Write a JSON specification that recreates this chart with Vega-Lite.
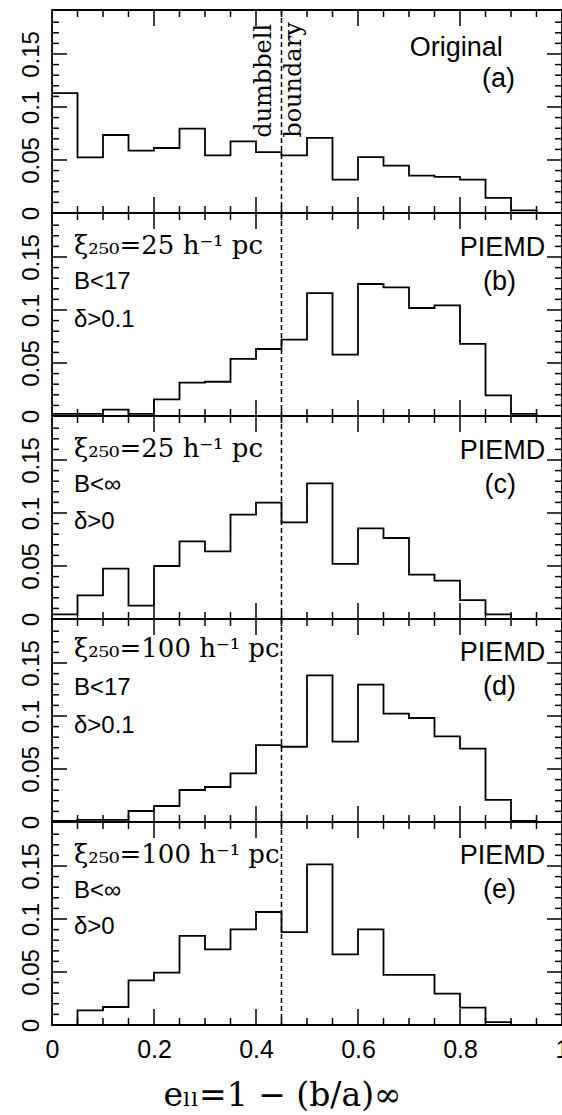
{
"$schema":"https://vega.github.io/schema/vega-lite/v6.json",
"background":"white",
"padding":{"left":0,"top":8,"right":1,"bottom":0},
"spacing":0,
"bounds":"flush",
"datasets":{
"hist":[
{"panel":"a","e":0,"f":0.113},{"panel":"a","e":0.05,"f":0.0525},{"panel":"a","e":0.1,"f":0.0736},{"panel":"a","e":0.15,"f":0.0588},{"panel":"a","e":0.2,"f":0.0613},{"panel":"a","e":0.25,"f":0.0796},{"panel":"a","e":0.3,"f":0.0544},{"panel":"a","e":0.35,"f":0.0676},{"panel":"a","e":0.4,"f":0.0575},{"panel":"a","e":0.45,"f":0.0544},{"panel":"a","e":0.5,"f":0.0708},{"panel":"a","e":0.55,"f":0.0314},{"panel":"a","e":0.6,"f":0.0528},{"panel":"a","e":0.65,"f":0.0447},{"panel":"a","e":0.7,"f":0.0352},{"panel":"a","e":0.75,"f":0.034},{"panel":"a","e":0.8,"f":0.0314},{"panel":"a","e":0.85,"f":0.0142},{"panel":"a","e":0.9,"f":0.0025},{"panel":"a","e":0.95,"f":0},{"panel":"a","e":1,"f":0},
{"panel":"b","e":0,"f":0.002},{"panel":"b","e":0.05,"f":0.002},{"panel":"b","e":0.1,"f":0.006},{"panel":"b","e":0.15,"f":0.002},{"panel":"b","e":0.2,"f":0.0157},{"panel":"b","e":0.25,"f":0.0314},{"panel":"b","e":0.3,"f":0.0323},{"panel":"b","e":0.35,"f":0.0538},{"panel":"b","e":0.4,"f":0.0632},{"panel":"b","e":0.45,"f":0.072},{"panel":"b","e":0.5,"f":0.116},{"panel":"b","e":0.55,"f":0.0579},{"panel":"b","e":0.6,"f":0.1245},{"panel":"b","e":0.65,"f":0.1214},{"panel":"b","e":0.7,"f":0.1019},{"panel":"b","e":0.75,"f":0.1044},{"panel":"b","e":0.8,"f":0.068},{"panel":"b","e":0.85,"f":0.0195},{"panel":"b","e":0.9,"f":0.002},{"panel":"b","e":0.95,"f":0},{"panel":"b","e":1,"f":0},
{"panel":"c","e":0,"f":0.0044},{"panel":"c","e":0.05,"f":0.0223},{"panel":"c","e":0.1,"f":0.0475},{"panel":"c","e":0.15,"f":0.0126},{"panel":"c","e":0.2,"f":0.05},{"panel":"c","e":0.25,"f":0.0733},{"panel":"c","e":0.3,"f":0.0638},{"panel":"c","e":0.35,"f":0.0984},{"panel":"c","e":0.4,"f":0.1097},{"panel":"c","e":0.45,"f":0.0912},{"panel":"c","e":0.5,"f":0.128},{"panel":"c","e":0.55,"f":0.052},{"panel":"c","e":0.6,"f":0.0855},{"panel":"c","e":0.65,"f":0.0764},{"panel":"c","e":0.7,"f":0.0418},{"panel":"c","e":0.75,"f":0.0362},{"panel":"c","e":0.8,"f":0.0179},{"panel":"c","e":0.85,"f":0.0044},{"panel":"c","e":0.9,"f":0},{"panel":"c","e":0.95,"f":0},{"panel":"c","e":1,"f":0},
{"panel":"d","e":0,"f":0.001},{"panel":"d","e":0.05,"f":0.002},{"panel":"d","e":0.1,"f":0.002},{"panel":"d","e":0.15,"f":0.0104},{"panel":"d","e":0.2,"f":0.0151},{"panel":"d","e":0.25,"f":0.0302},{"panel":"d","e":0.3,"f":0.033},{"panel":"d","e":0.35,"f":0.0459},{"panel":"d","e":0.4,"f":0.0726},{"panel":"d","e":0.45,"f":0.071},{"panel":"d","e":0.5,"f":0.1384},{"panel":"d","e":0.55,"f":0.0758},{"panel":"d","e":0.6,"f":0.1296},{"panel":"d","e":0.65,"f":0.1022},{"panel":"d","e":0.7,"f":0.0981},{"panel":"d","e":0.75,"f":0.0808},{"panel":"d","e":0.8,"f":0.0692},{"panel":"d","e":0.85,"f":0.0208},{"panel":"d","e":0.9,"f":0.001},{"panel":"d","e":0.95,"f":0},{"panel":"d","e":1,"f":0},
{"panel":"e","e":0,"f":0},{"panel":"e","e":0.05,"f":0.0138},{"panel":"e","e":0.1,"f":0.017},{"panel":"e","e":0.15,"f":0.0421},{"panel":"e","e":0.2,"f":0.0494},{"panel":"e","e":0.25,"f":0.084},{"panel":"e","e":0.3,"f":0.0714},{"panel":"e","e":0.35,"f":0.0903},{"panel":"e","e":0.4,"f":0.1066},{"panel":"e","e":0.45,"f":0.0877},{"panel":"e","e":0.5,"f":0.1516},{"panel":"e","e":0.55,"f":0.0667},{"panel":"e","e":0.6,"f":0.0903},{"panel":"e","e":0.65,"f":0.0472},{"panel":"e","e":0.7,"f":0.0472},{"panel":"e","e":0.75,"f":0.0296},{"panel":"e","e":0.8,"f":0.0164},{"panel":"e","e":0.85,"f":0.0028},{"panel":"e","e":0.9,"f":0},{"panel":"e","e":0.95,"f":0},{"panel":"e","e":1,"f":0}
],
"ticks":[
{"kind":"xmajor","v":0.2},{"kind":"xmajor","v":0.4},{"kind":"xmajor","v":0.6},{"kind":"xmajor","v":0.8},
{"kind":"xminor","v":0.05},{"kind":"xminor","v":0.1},{"kind":"xminor","v":0.15},{"kind":"xminor","v":0.25},{"kind":"xminor","v":0.3},{"kind":"xminor","v":0.35},{"kind":"xminor","v":0.45},{"kind":"xminor","v":0.5},{"kind":"xminor","v":0.55},{"kind":"xminor","v":0.65},{"kind":"xminor","v":0.7},{"kind":"xminor","v":0.75},{"kind":"xminor","v":0.85},{"kind":"xminor","v":0.9},{"kind":"xminor","v":0.95},
{"kind":"ymajor","v":0.05},{"kind":"ymajor","v":0.1},{"kind":"ymajor","v":0.15},
{"kind":"yminor","v":0.01},{"kind":"yminor","v":0.02},{"kind":"yminor","v":0.03},{"kind":"yminor","v":0.04},{"kind":"yminor","v":0.06},{"kind":"yminor","v":0.07},{"kind":"yminor","v":0.08},{"kind":"yminor","v":0.09},{"kind":"yminor","v":0.11},{"kind":"yminor","v":0.12},{"kind":"yminor","v":0.13},{"kind":"yminor","v":0.14},{"kind":"yminor","v":0.16},{"kind":"yminor","v":0.17},{"kind":"yminor","v":0.18}
],
"notes":[
{"panel":"a","model":"Original","tag":"(a)","w1":"dumbbell","w2":"boundary"},
{"panel":"b","model":"PIEMD","tag":"(b)","l1":"ξ₂₅₀=25   h⁻¹   pc","l2":"B<17","l3":"δ>0.1"},
{"panel":"c","model":"PIEMD","tag":"(c)","l1":"ξ₂₅₀=25   h⁻¹   pc","l2":"B<∞","l3":"δ>0"},
{"panel":"d","model":"PIEMD","tag":"(d)","l1":"ξ₂₅₀=100   h⁻¹   pc","l2":"B<17","l3":"δ>0.1"},
{"panel":"e","model":"PIEMD","tag":"(e)","l1":"ξ₂₅₀=100   h⁻¹   pc","l2":"B<∞","l3":"δ>0"}
]
},
"vconcat":[
{"width":510,"height":203,"data":{"name":"hist"},"transform":[{"filter":"datum.panel==='a'"}],"resolve":{"axis":{"x":"independent","y":"independent"}},
"layer":[
{"mark":{"type":"line","interpolate":"step-after","color":"black","strokeWidth":1.8},"encoding":{"x":{"field":"e","type":"quantitative","scale":{"domain":[0,1],"nice":false,"zero":false},"axis":null},"y":{"field":"f","type":"quantitative","scale":{"domain":[0,0.1915],"nice":false},"axis":{"orient":"left","values":[0,0.05,0.1,0.15],"ticks":false,"labelAngle":270,"labelAlign":"center","labelBaseline":"alphabetic","labelPadding":14,"format":"~g","minExtent":51,"maxExtent":51,"title":null}}}},
{"data":{"name":"ticks"},"transform":[{"filter":"datum.v >= 0"}],
"layer":[
{"transform":[{"filter":"datum.kind==='xmajor'"}],"mark":{"type":"rule","color":"black","strokeWidth":1.5},"encoding":{"x":{"field":"v","type":"quantitative","scale":{"domain":[0,1],"nice":false,"zero":false},"axis":null},"y":{"datum":0,"type":"quantitative","scale":{"domain":[0,0.1915],"nice":false},"axis":null},"y2":{"datum":0.0151}}},
{"transform":[{"filter":"datum.kind==='xminor'"}],"mark":{"type":"rule","color":"black","strokeWidth":1.5},"encoding":{"x":{"field":"v","type":"quantitative","scale":{"domain":[0,1],"nice":false,"zero":false},"axis":null},"y":{"datum":0,"type":"quantitative","scale":{"domain":[0,0.1915],"nice":false},"axis":null},"y2":{"datum":0.0066}}},
{"transform":[{"filter":"datum.kind==='xmajor'"}],"mark":{"type":"rule","color":"black","strokeWidth":1.5},"encoding":{"x":{"field":"v","type":"quantitative","scale":{"domain":[0,1],"nice":false,"zero":false},"axis":null},"y":{"datum":0.1915,"type":"quantitative","scale":{"domain":[0,0.1915],"nice":false},"axis":null},"y2":{"datum":0.1764}}},
{"transform":[{"filter":"datum.kind==='xminor'"}],"mark":{"type":"rule","color":"black","strokeWidth":1.5},"encoding":{"x":{"field":"v","type":"quantitative","scale":{"domain":[0,1],"nice":false,"zero":false},"axis":null},"y":{"datum":0.1915,"type":"quantitative","scale":{"domain":[0,0.1915],"nice":false},"axis":null},"y2":{"datum":0.1849}}},
{"transform":[{"filter":"datum.kind==='ymajor'"}],"mark":{"type":"rule","color":"black","strokeWidth":1.5},"encoding":{"y":{"field":"v","type":"quantitative","scale":{"domain":[0,0.1915],"nice":false},"axis":null},"x":{"datum":0,"type":"quantitative","scale":{"domain":[0,1],"nice":false,"zero":false},"axis":null},"x2":{"datum":0.0294}}},
{"transform":[{"filter":"datum.kind==='yminor'"}],"mark":{"type":"rule","color":"black","strokeWidth":1.5},"encoding":{"y":{"field":"v","type":"quantitative","scale":{"domain":[0,0.1915],"nice":false},"axis":null},"x":{"datum":0,"type":"quantitative","scale":{"domain":[0,1],"nice":false,"zero":false},"axis":null},"x2":{"datum":0.0137}}},
{"transform":[{"filter":"datum.kind==='ymajor'"}],"mark":{"type":"rule","color":"black","strokeWidth":1.5},"encoding":{"y":{"field":"v","type":"quantitative","scale":{"domain":[0,0.1915],"nice":false},"axis":null},"x":{"datum":1,"type":"quantitative","scale":{"domain":[0,1],"nice":false,"zero":false},"axis":null},"x2":{"datum":0.9706}}},
{"transform":[{"filter":"datum.kind==='yminor'"}],"mark":{"type":"rule","color":"black","strokeWidth":1.5},"encoding":{"y":{"field":"v","type":"quantitative","scale":{"domain":[0,0.1915],"nice":false},"axis":null},"x":{"datum":1,"type":"quantitative","scale":{"domain":[0,1],"nice":false,"zero":false},"axis":null},"x2":{"datum":0.9863}}}
]},
{"data":{"name":"notes"},"transform":[{"filter":"datum.panel==='a'"}],
"layer":[
{"mark":{"type":"rule","color":"black","strokeWidth":1.5,"strokeDash":[5,3]},"encoding":{"x":{"datum":0.45,"type":"quantitative","scale":{"domain":[0,1],"nice":false,"zero":false},"axis":null}}},
{"mark":{"type":"text","align":"right","baseline":"alphabetic","font":"Liberation Sans","fontSize":27,"color":"black"},"encoding":{"x":{"datum":0.884,"type":"quantitative","scale":{"domain":[0,1],"nice":false,"zero":false},"axis":null},"y":{"datum":0.148,"type":"quantitative","scale":{"domain":[0,0.1915],"nice":false},"axis":null},"text":{"field":"model"}}},
{"mark":{"type":"text","align":"right","baseline":"alphabetic","font":"Liberation Sans","fontSize":27,"color":"black"},"encoding":{"x":{"datum":0.908,"type":"quantitative","scale":{"domain":[0,1],"nice":false,"zero":false},"axis":null},"y":{"datum":0.119,"type":"quantitative","scale":{"domain":[0,0.1915],"nice":false},"axis":null},"text":{"field":"tag"}}},
{"mark":{"type":"text","align":"left","baseline":"alphabetic","angle":270,"font":"DejaVu Serif","fontSize":24,"color":"black"},"encoding":{"x":{"datum":0.4285,"type":"quantitative","scale":{"domain":[0,1],"nice":false,"zero":false},"axis":null},"y":{"datum":0.071,"type":"quantitative","scale":{"domain":[0,0.1915],"nice":false},"axis":null},"text":{"field":"w1"}}},
{"mark":{"type":"text","align":"left","baseline":"alphabetic","angle":270,"font":"DejaVu Serif","fontSize":24,"color":"black"},"encoding":{"x":{"datum":0.488,"type":"quantitative","scale":{"domain":[0,1],"nice":false,"zero":false},"axis":null},"y":{"datum":0.071,"type":"quantitative","scale":{"domain":[0,0.1915],"nice":false},"axis":null},"text":{"field":"w2"}}}
]}
]},
{"width":510,"height":203,"data":{"name":"hist"},"transform":[{"filter":"datum.panel==='b'"}],"resolve":{"axis":{"x":"independent","y":"independent"}},
"layer":[
{"mark":{"type":"line","interpolate":"step-after","color":"black","strokeWidth":1.8},"encoding":{"x":{"field":"e","type":"quantitative","scale":{"domain":[0,1],"nice":false,"zero":false},"axis":null},"y":{"field":"f","type":"quantitative","scale":{"domain":[0,0.1915],"nice":false},"axis":{"orient":"left","values":[0,0.05,0.1,0.15],"ticks":false,"labelAngle":270,"labelAlign":"center","labelBaseline":"alphabetic","labelPadding":14,"format":"~g","minExtent":51,"maxExtent":51,"title":null}}}},
{"data":{"name":"ticks"},"transform":[{"filter":"datum.v >= 0"}],
"layer":[
{"transform":[{"filter":"datum.kind==='xmajor'"}],"mark":{"type":"rule","color":"black","strokeWidth":1.5},"encoding":{"x":{"field":"v","type":"quantitative","scale":{"domain":[0,1],"nice":false,"zero":false},"axis":null},"y":{"datum":0,"type":"quantitative","scale":{"domain":[0,0.1915],"nice":false},"axis":null},"y2":{"datum":0.0151}}},
{"transform":[{"filter":"datum.kind==='xminor'"}],"mark":{"type":"rule","color":"black","strokeWidth":1.5},"encoding":{"x":{"field":"v","type":"quantitative","scale":{"domain":[0,1],"nice":false,"zero":false},"axis":null},"y":{"datum":0,"type":"quantitative","scale":{"domain":[0,0.1915],"nice":false},"axis":null},"y2":{"datum":0.0066}}},
{"transform":[{"filter":"datum.kind==='xmajor'"}],"mark":{"type":"rule","color":"black","strokeWidth":1.5},"encoding":{"x":{"field":"v","type":"quantitative","scale":{"domain":[0,1],"nice":false,"zero":false},"axis":null},"y":{"datum":0.1915,"type":"quantitative","scale":{"domain":[0,0.1915],"nice":false},"axis":null},"y2":{"datum":0.1764}}},
{"transform":[{"filter":"datum.kind==='xminor'"}],"mark":{"type":"rule","color":"black","strokeWidth":1.5},"encoding":{"x":{"field":"v","type":"quantitative","scale":{"domain":[0,1],"nice":false,"zero":false},"axis":null},"y":{"datum":0.1915,"type":"quantitative","scale":{"domain":[0,0.1915],"nice":false},"axis":null},"y2":{"datum":0.1849}}},
{"transform":[{"filter":"datum.kind==='ymajor'"}],"mark":{"type":"rule","color":"black","strokeWidth":1.5},"encoding":{"y":{"field":"v","type":"quantitative","scale":{"domain":[0,0.1915],"nice":false},"axis":null},"x":{"datum":0,"type":"quantitative","scale":{"domain":[0,1],"nice":false,"zero":false},"axis":null},"x2":{"datum":0.0294}}},
{"transform":[{"filter":"datum.kind==='yminor'"}],"mark":{"type":"rule","color":"black","strokeWidth":1.5},"encoding":{"y":{"field":"v","type":"quantitative","scale":{"domain":[0,0.1915],"nice":false},"axis":null},"x":{"datum":0,"type":"quantitative","scale":{"domain":[0,1],"nice":false,"zero":false},"axis":null},"x2":{"datum":0.0137}}},
{"transform":[{"filter":"datum.kind==='ymajor'"}],"mark":{"type":"rule","color":"black","strokeWidth":1.5},"encoding":{"y":{"field":"v","type":"quantitative","scale":{"domain":[0,0.1915],"nice":false},"axis":null},"x":{"datum":1,"type":"quantitative","scale":{"domain":[0,1],"nice":false,"zero":false},"axis":null},"x2":{"datum":0.9706}}},
{"transform":[{"filter":"datum.kind==='yminor'"}],"mark":{"type":"rule","color":"black","strokeWidth":1.5},"encoding":{"y":{"field":"v","type":"quantitative","scale":{"domain":[0,0.1915],"nice":false},"axis":null},"x":{"datum":1,"type":"quantitative","scale":{"domain":[0,1],"nice":false,"zero":false},"axis":null},"x2":{"datum":0.9863}}}
]},
{"data":{"name":"notes"},"transform":[{"filter":"datum.panel==='b'"}],
"layer":[
{"mark":{"type":"rule","color":"black","strokeWidth":1.5,"strokeDash":[5,3]},"encoding":{"x":{"datum":0.45,"type":"quantitative","scale":{"domain":[0,1],"nice":false,"zero":false},"axis":null}}},
{"mark":{"type":"text","align":"right","baseline":"alphabetic","font":"Liberation Sans","fontSize":27,"color":"black"},"encoding":{"x":{"datum":0.967,"type":"quantitative","scale":{"domain":[0,1],"nice":false,"zero":false},"axis":null},"y":{"datum":0.151,"type":"quantitative","scale":{"domain":[0,0.1915],"nice":false},"axis":null},"text":{"field":"model"}}},
{"mark":{"type":"text","align":"right","baseline":"alphabetic","font":"Liberation Sans","fontSize":27,"color":"black"},"encoding":{"x":{"datum":0.91,"type":"quantitative","scale":{"domain":[0,1],"nice":false,"zero":false},"axis":null},"y":{"datum":0.119,"type":"quantitative","scale":{"domain":[0,0.1915],"nice":false},"axis":null},"text":{"field":"tag"}}},
{"mark":{"type":"text","align":"left","baseline":"alphabetic","font":"DejaVu Serif","fontSize":26,"color":"black"},"encoding":{"x":{"datum":0.043,"type":"quantitative","scale":{"domain":[0,1],"nice":false,"zero":false},"axis":null},"y":{"datum":0.153,"type":"quantitative","scale":{"domain":[0,0.1915],"nice":false},"axis":null},"text":{"field":"l1"}}},
{"mark":{"type":"text","align":"left","baseline":"alphabetic","font":"Liberation Sans","fontSize":24,"color":"black"},"encoding":{"x":{"datum":0.043,"type":"quantitative","scale":{"domain":[0,1],"nice":false,"zero":false},"axis":null},"y":{"datum":0.12,"type":"quantitative","scale":{"domain":[0,0.1915],"nice":false},"axis":null},"text":{"field":"l2"}}},
{"mark":{"type":"text","align":"left","baseline":"alphabetic","font":"Liberation Sans","fontSize":24,"color":"black"},"encoding":{"x":{"datum":0.043,"type":"quantitative","scale":{"domain":[0,1],"nice":false,"zero":false},"axis":null},"y":{"datum":0.084,"type":"quantitative","scale":{"domain":[0,0.1915],"nice":false},"axis":null},"text":{"field":"l3"}}}
]}
]},
{"width":510,"height":203,"data":{"name":"hist"},"transform":[{"filter":"datum.panel==='c'"}],"resolve":{"axis":{"x":"independent","y":"independent"}},
"layer":[
{"mark":{"type":"line","interpolate":"step-after","color":"black","strokeWidth":1.8},"encoding":{"x":{"field":"e","type":"quantitative","scale":{"domain":[0,1],"nice":false,"zero":false},"axis":null},"y":{"field":"f","type":"quantitative","scale":{"domain":[0,0.1915],"nice":false},"axis":{"orient":"left","values":[0,0.05,0.1,0.15],"ticks":false,"labelAngle":270,"labelAlign":"center","labelBaseline":"alphabetic","labelPadding":14,"format":"~g","minExtent":51,"maxExtent":51,"title":null}}}},
{"data":{"name":"ticks"},"transform":[{"filter":"datum.v >= 0"}],
"layer":[
{"transform":[{"filter":"datum.kind==='xmajor'"}],"mark":{"type":"rule","color":"black","strokeWidth":1.5},"encoding":{"x":{"field":"v","type":"quantitative","scale":{"domain":[0,1],"nice":false,"zero":false},"axis":null},"y":{"datum":0,"type":"quantitative","scale":{"domain":[0,0.1915],"nice":false},"axis":null},"y2":{"datum":0.0151}}},
{"transform":[{"filter":"datum.kind==='xminor'"}],"mark":{"type":"rule","color":"black","strokeWidth":1.5},"encoding":{"x":{"field":"v","type":"quantitative","scale":{"domain":[0,1],"nice":false,"zero":false},"axis":null},"y":{"datum":0,"type":"quantitative","scale":{"domain":[0,0.1915],"nice":false},"axis":null},"y2":{"datum":0.0066}}},
{"transform":[{"filter":"datum.kind==='xmajor'"}],"mark":{"type":"rule","color":"black","strokeWidth":1.5},"encoding":{"x":{"field":"v","type":"quantitative","scale":{"domain":[0,1],"nice":false,"zero":false},"axis":null},"y":{"datum":0.1915,"type":"quantitative","scale":{"domain":[0,0.1915],"nice":false},"axis":null},"y2":{"datum":0.1764}}},
{"transform":[{"filter":"datum.kind==='xminor'"}],"mark":{"type":"rule","color":"black","strokeWidth":1.5},"encoding":{"x":{"field":"v","type":"quantitative","scale":{"domain":[0,1],"nice":false,"zero":false},"axis":null},"y":{"datum":0.1915,"type":"quantitative","scale":{"domain":[0,0.1915],"nice":false},"axis":null},"y2":{"datum":0.1849}}},
{"transform":[{"filter":"datum.kind==='ymajor'"}],"mark":{"type":"rule","color":"black","strokeWidth":1.5},"encoding":{"y":{"field":"v","type":"quantitative","scale":{"domain":[0,0.1915],"nice":false},"axis":null},"x":{"datum":0,"type":"quantitative","scale":{"domain":[0,1],"nice":false,"zero":false},"axis":null},"x2":{"datum":0.0294}}},
{"transform":[{"filter":"datum.kind==='yminor'"}],"mark":{"type":"rule","color":"black","strokeWidth":1.5},"encoding":{"y":{"field":"v","type":"quantitative","scale":{"domain":[0,0.1915],"nice":false},"axis":null},"x":{"datum":0,"type":"quantitative","scale":{"domain":[0,1],"nice":false,"zero":false},"axis":null},"x2":{"datum":0.0137}}},
{"transform":[{"filter":"datum.kind==='ymajor'"}],"mark":{"type":"rule","color":"black","strokeWidth":1.5},"encoding":{"y":{"field":"v","type":"quantitative","scale":{"domain":[0,0.1915],"nice":false},"axis":null},"x":{"datum":1,"type":"quantitative","scale":{"domain":[0,1],"nice":false,"zero":false},"axis":null},"x2":{"datum":0.9706}}},
{"transform":[{"filter":"datum.kind==='yminor'"}],"mark":{"type":"rule","color":"black","strokeWidth":1.5},"encoding":{"y":{"field":"v","type":"quantitative","scale":{"domain":[0,0.1915],"nice":false},"axis":null},"x":{"datum":1,"type":"quantitative","scale":{"domain":[0,1],"nice":false,"zero":false},"axis":null},"x2":{"datum":0.9863}}}
]},
{"data":{"name":"notes"},"transform":[{"filter":"datum.panel==='c'"}],
"layer":[
{"mark":{"type":"rule","color":"black","strokeWidth":1.5,"strokeDash":[5,3]},"encoding":{"x":{"datum":0.45,"type":"quantitative","scale":{"domain":[0,1],"nice":false,"zero":false},"axis":null}}},
{"mark":{"type":"text","align":"right","baseline":"alphabetic","font":"Liberation Sans","fontSize":27,"color":"black"},"encoding":{"x":{"datum":0.967,"type":"quantitative","scale":{"domain":[0,1],"nice":false,"zero":false},"axis":null},"y":{"datum":0.151,"type":"quantitative","scale":{"domain":[0,0.1915],"nice":false},"axis":null},"text":{"field":"model"}}},
{"mark":{"type":"text","align":"right","baseline":"alphabetic","font":"Liberation Sans","fontSize":27,"color":"black"},"encoding":{"x":{"datum":0.91,"type":"quantitative","scale":{"domain":[0,1],"nice":false,"zero":false},"axis":null},"y":{"datum":0.119,"type":"quantitative","scale":{"domain":[0,0.1915],"nice":false},"axis":null},"text":{"field":"tag"}}},
{"mark":{"type":"text","align":"left","baseline":"alphabetic","font":"DejaVu Serif","fontSize":26,"color":"black"},"encoding":{"x":{"datum":0.043,"type":"quantitative","scale":{"domain":[0,1],"nice":false,"zero":false},"axis":null},"y":{"datum":0.153,"type":"quantitative","scale":{"domain":[0,0.1915],"nice":false},"axis":null},"text":{"field":"l1"}}},
{"mark":{"type":"text","align":"left","baseline":"alphabetic","font":"Liberation Sans","fontSize":24,"color":"black"},"encoding":{"x":{"datum":0.043,"type":"quantitative","scale":{"domain":[0,1],"nice":false,"zero":false},"axis":null},"y":{"datum":0.12,"type":"quantitative","scale":{"domain":[0,0.1915],"nice":false},"axis":null},"text":{"field":"l2"}}},
{"mark":{"type":"text","align":"left","baseline":"alphabetic","font":"Liberation Sans","fontSize":24,"color":"black"},"encoding":{"x":{"datum":0.043,"type":"quantitative","scale":{"domain":[0,1],"nice":false,"zero":false},"axis":null},"y":{"datum":0.085,"type":"quantitative","scale":{"domain":[0,0.1915],"nice":false},"axis":null},"text":{"field":"l3"}}}
]}
]},
{"width":510,"height":203,"data":{"name":"hist"},"transform":[{"filter":"datum.panel==='d'"}],"resolve":{"axis":{"x":"independent","y":"independent"}},
"layer":[
{"mark":{"type":"line","interpolate":"step-after","color":"black","strokeWidth":1.8},"encoding":{"x":{"field":"e","type":"quantitative","scale":{"domain":[0,1],"nice":false,"zero":false},"axis":null},"y":{"field":"f","type":"quantitative","scale":{"domain":[0,0.1915],"nice":false},"axis":{"orient":"left","values":[0,0.05,0.1,0.15],"ticks":false,"labelAngle":270,"labelAlign":"center","labelBaseline":"alphabetic","labelPadding":14,"format":"~g","minExtent":51,"maxExtent":51,"title":null}}}},
{"data":{"name":"ticks"},"transform":[{"filter":"datum.v >= 0"}],
"layer":[
{"transform":[{"filter":"datum.kind==='xmajor'"}],"mark":{"type":"rule","color":"black","strokeWidth":1.5},"encoding":{"x":{"field":"v","type":"quantitative","scale":{"domain":[0,1],"nice":false,"zero":false},"axis":null},"y":{"datum":0,"type":"quantitative","scale":{"domain":[0,0.1915],"nice":false},"axis":null},"y2":{"datum":0.0151}}},
{"transform":[{"filter":"datum.kind==='xminor'"}],"mark":{"type":"rule","color":"black","strokeWidth":1.5},"encoding":{"x":{"field":"v","type":"quantitative","scale":{"domain":[0,1],"nice":false,"zero":false},"axis":null},"y":{"datum":0,"type":"quantitative","scale":{"domain":[0,0.1915],"nice":false},"axis":null},"y2":{"datum":0.0066}}},
{"transform":[{"filter":"datum.kind==='xmajor'"}],"mark":{"type":"rule","color":"black","strokeWidth":1.5},"encoding":{"x":{"field":"v","type":"quantitative","scale":{"domain":[0,1],"nice":false,"zero":false},"axis":null},"y":{"datum":0.1915,"type":"quantitative","scale":{"domain":[0,0.1915],"nice":false},"axis":null},"y2":{"datum":0.1764}}},
{"transform":[{"filter":"datum.kind==='xminor'"}],"mark":{"type":"rule","color":"black","strokeWidth":1.5},"encoding":{"x":{"field":"v","type":"quantitative","scale":{"domain":[0,1],"nice":false,"zero":false},"axis":null},"y":{"datum":0.1915,"type":"quantitative","scale":{"domain":[0,0.1915],"nice":false},"axis":null},"y2":{"datum":0.1849}}},
{"transform":[{"filter":"datum.kind==='ymajor'"}],"mark":{"type":"rule","color":"black","strokeWidth":1.5},"encoding":{"y":{"field":"v","type":"quantitative","scale":{"domain":[0,0.1915],"nice":false},"axis":null},"x":{"datum":0,"type":"quantitative","scale":{"domain":[0,1],"nice":false,"zero":false},"axis":null},"x2":{"datum":0.0294}}},
{"transform":[{"filter":"datum.kind==='yminor'"}],"mark":{"type":"rule","color":"black","strokeWidth":1.5},"encoding":{"y":{"field":"v","type":"quantitative","scale":{"domain":[0,0.1915],"nice":false},"axis":null},"x":{"datum":0,"type":"quantitative","scale":{"domain":[0,1],"nice":false,"zero":false},"axis":null},"x2":{"datum":0.0137}}},
{"transform":[{"filter":"datum.kind==='ymajor'"}],"mark":{"type":"rule","color":"black","strokeWidth":1.5},"encoding":{"y":{"field":"v","type":"quantitative","scale":{"domain":[0,0.1915],"nice":false},"axis":null},"x":{"datum":1,"type":"quantitative","scale":{"domain":[0,1],"nice":false,"zero":false},"axis":null},"x2":{"datum":0.9706}}},
{"transform":[{"filter":"datum.kind==='yminor'"}],"mark":{"type":"rule","color":"black","strokeWidth":1.5},"encoding":{"y":{"field":"v","type":"quantitative","scale":{"domain":[0,0.1915],"nice":false},"axis":null},"x":{"datum":1,"type":"quantitative","scale":{"domain":[0,1],"nice":false,"zero":false},"axis":null},"x2":{"datum":0.9863}}}
]},
{"data":{"name":"notes"},"transform":[{"filter":"datum.panel==='d'"}],
"layer":[
{"mark":{"type":"rule","color":"black","strokeWidth":1.5,"strokeDash":[5,3]},"encoding":{"x":{"datum":0.45,"type":"quantitative","scale":{"domain":[0,1],"nice":false,"zero":false},"axis":null}}},
{"mark":{"type":"text","align":"right","baseline":"alphabetic","font":"Liberation Sans","fontSize":27,"color":"black"},"encoding":{"x":{"datum":0.967,"type":"quantitative","scale":{"domain":[0,1],"nice":false,"zero":false},"axis":null},"y":{"datum":0.152,"type":"quantitative","scale":{"domain":[0,0.1915],"nice":false},"axis":null},"text":{"field":"model"}}},
{"mark":{"type":"text","align":"right","baseline":"alphabetic","font":"Liberation Sans","fontSize":27,"color":"black"},"encoding":{"x":{"datum":0.91,"type":"quantitative","scale":{"domain":[0,1],"nice":false,"zero":false},"axis":null},"y":{"datum":0.12,"type":"quantitative","scale":{"domain":[0,0.1915],"nice":false},"axis":null},"text":{"field":"tag"}}},
{"mark":{"type":"text","align":"left","baseline":"alphabetic","font":"DejaVu Serif","fontSize":26,"color":"black"},"encoding":{"x":{"datum":0.043,"type":"quantitative","scale":{"domain":[0,1],"nice":false,"zero":false},"axis":null},"y":{"datum":0.156,"type":"quantitative","scale":{"domain":[0,0.1915],"nice":false},"axis":null},"text":{"field":"l1"}}},
{"mark":{"type":"text","align":"left","baseline":"alphabetic","font":"Liberation Sans","fontSize":24,"color":"black"},"encoding":{"x":{"datum":0.043,"type":"quantitative","scale":{"domain":[0,1],"nice":false,"zero":false},"axis":null},"y":{"datum":0.12,"type":"quantitative","scale":{"domain":[0,0.1915],"nice":false},"axis":null},"text":{"field":"l2"}}},
{"mark":{"type":"text","align":"left","baseline":"alphabetic","font":"Liberation Sans","fontSize":24,"color":"black"},"encoding":{"x":{"datum":0.043,"type":"quantitative","scale":{"domain":[0,1],"nice":false,"zero":false},"axis":null},"y":{"datum":0.084,"type":"quantitative","scale":{"domain":[0,0.1915],"nice":false},"axis":null},"text":{"field":"l3"}}}
]}
]},
{"width":510,"height":203,"data":{"name":"hist"},"transform":[{"filter":"datum.panel==='e'"}],"resolve":{"axis":{"x":"independent","y":"independent"}},
"layer":[
{"mark":{"type":"line","interpolate":"step-after","color":"black","strokeWidth":1.8},"encoding":{"x":{"field":"e","type":"quantitative","scale":{"domain":[0,1],"nice":false,"zero":false},"axis":{"orient":"bottom","values":[0,0.2,0.4,0.6,0.8,1],"ticks":false,"format":"~g","labelPadding":12,"labelFontSize":25,"title":"eₗₗ=1 − (b/a)∞","titleFont":"DejaVu Serif","titleFontSize":33,"titleFontWeight":"normal","titleColor":"black","titleX":230,"titleY":80,"titleBaseline":"alphabetic","titleAlign":"center"}},"y":{"field":"f","type":"quantitative","scale":{"domain":[0,0.1915],"nice":false},"axis":{"orient":"left","values":[0,0.05,0.1,0.15],"ticks":false,"labelAngle":270,"labelAlign":"center","labelBaseline":"alphabetic","labelPadding":14,"format":"~g","minExtent":51,"maxExtent":51,"title":null}}}},
{"data":{"name":"ticks"},"transform":[{"filter":"datum.v >= 0"}],
"layer":[
{"transform":[{"filter":"datum.kind==='xmajor'"}],"mark":{"type":"rule","color":"black","strokeWidth":1.5},"encoding":{"x":{"field":"v","type":"quantitative","scale":{"domain":[0,1],"nice":false,"zero":false},"axis":null},"y":{"datum":0,"type":"quantitative","scale":{"domain":[0,0.1915],"nice":false},"axis":null},"y2":{"datum":0.0151}}},
{"transform":[{"filter":"datum.kind==='xminor'"}],"mark":{"type":"rule","color":"black","strokeWidth":1.5},"encoding":{"x":{"field":"v","type":"quantitative","scale":{"domain":[0,1],"nice":false,"zero":false},"axis":null},"y":{"datum":0,"type":"quantitative","scale":{"domain":[0,0.1915],"nice":false},"axis":null},"y2":{"datum":0.0066}}},
{"transform":[{"filter":"datum.kind==='xmajor'"}],"mark":{"type":"rule","color":"black","strokeWidth":1.5},"encoding":{"x":{"field":"v","type":"quantitative","scale":{"domain":[0,1],"nice":false,"zero":false},"axis":null},"y":{"datum":0.1915,"type":"quantitative","scale":{"domain":[0,0.1915],"nice":false},"axis":null},"y2":{"datum":0.1764}}},
{"transform":[{"filter":"datum.kind==='xminor'"}],"mark":{"type":"rule","color":"black","strokeWidth":1.5},"encoding":{"x":{"field":"v","type":"quantitative","scale":{"domain":[0,1],"nice":false,"zero":false},"axis":null},"y":{"datum":0.1915,"type":"quantitative","scale":{"domain":[0,0.1915],"nice":false},"axis":null},"y2":{"datum":0.1849}}},
{"transform":[{"filter":"datum.kind==='ymajor'"}],"mark":{"type":"rule","color":"black","strokeWidth":1.5},"encoding":{"y":{"field":"v","type":"quantitative","scale":{"domain":[0,0.1915],"nice":false},"axis":null},"x":{"datum":0,"type":"quantitative","scale":{"domain":[0,1],"nice":false,"zero":false},"axis":null},"x2":{"datum":0.0294}}},
{"transform":[{"filter":"datum.kind==='yminor'"}],"mark":{"type":"rule","color":"black","strokeWidth":1.5},"encoding":{"y":{"field":"v","type":"quantitative","scale":{"domain":[0,0.1915],"nice":false},"axis":null},"x":{"datum":0,"type":"quantitative","scale":{"domain":[0,1],"nice":false,"zero":false},"axis":null},"x2":{"datum":0.0137}}},
{"transform":[{"filter":"datum.kind==='ymajor'"}],"mark":{"type":"rule","color":"black","strokeWidth":1.5},"encoding":{"y":{"field":"v","type":"quantitative","scale":{"domain":[0,0.1915],"nice":false},"axis":null},"x":{"datum":1,"type":"quantitative","scale":{"domain":[0,1],"nice":false,"zero":false},"axis":null},"x2":{"datum":0.9706}}},
{"transform":[{"filter":"datum.kind==='yminor'"}],"mark":{"type":"rule","color":"black","strokeWidth":1.5},"encoding":{"y":{"field":"v","type":"quantitative","scale":{"domain":[0,0.1915],"nice":false},"axis":null},"x":{"datum":1,"type":"quantitative","scale":{"domain":[0,1],"nice":false,"zero":false},"axis":null},"x2":{"datum":0.9863}}}
]},
{"data":{"name":"notes"},"transform":[{"filter":"datum.panel==='e'"}],
"layer":[
{"mark":{"type":"rule","color":"black","strokeWidth":1.5,"strokeDash":[5,3]},"encoding":{"x":{"datum":0.45,"type":"quantitative","scale":{"domain":[0,1],"nice":false,"zero":false},"axis":null}}},
{"mark":{"type":"text","align":"right","baseline":"alphabetic","font":"Liberation Sans","fontSize":27,"color":"black"},"encoding":{"x":{"datum":0.967,"type":"quantitative","scale":{"domain":[0,1],"nice":false,"zero":false},"axis":null},"y":{"datum":0.152,"type":"quantitative","scale":{"domain":[0,0.1915],"nice":false},"axis":null},"text":{"field":"model"}}},
{"mark":{"type":"text","align":"right","baseline":"alphabetic","font":"Liberation Sans","fontSize":27,"color":"black"},"encoding":{"x":{"datum":0.91,"type":"quantitative","scale":{"domain":[0,1],"nice":false,"zero":false},"axis":null},"y":{"datum":0.12,"type":"quantitative","scale":{"domain":[0,0.1915],"nice":false},"axis":null},"text":{"field":"tag"}}},
{"mark":{"type":"text","align":"left","baseline":"alphabetic","font":"DejaVu Serif","fontSize":26,"color":"black"},"encoding":{"x":{"datum":0.043,"type":"quantitative","scale":{"domain":[0,1],"nice":false,"zero":false},"axis":null},"y":{"datum":0.153,"type":"quantitative","scale":{"domain":[0,0.1915],"nice":false},"axis":null},"text":{"field":"l1"}}},
{"mark":{"type":"text","align":"left","baseline":"alphabetic","font":"Liberation Sans","fontSize":24,"color":"black"},"encoding":{"x":{"datum":0.043,"type":"quantitative","scale":{"domain":[0,1],"nice":false,"zero":false},"axis":null},"y":{"datum":0.12,"type":"quantitative","scale":{"domain":[0,0.1915],"nice":false},"axis":null},"text":{"field":"l2"}}},
{"mark":{"type":"text","align":"left","baseline":"alphabetic","font":"Liberation Sans","fontSize":24,"color":"black"},"encoding":{"x":{"datum":0.043,"type":"quantitative","scale":{"domain":[0,1],"nice":false,"zero":false},"axis":null},"y":{"datum":0.086,"type":"quantitative","scale":{"domain":[0,0.1915],"nice":false},"axis":null},"text":{"field":"l3"}}}
]}
]}
],
"config":{
"view":{"stroke":"black","strokeWidth":1.8},
"axis":{"grid":false,"domain":false,"labelColor":"black","labelFont":"Liberation Sans","labelFontSize":24,"labelFlush":false,"labelOverlap":false}
}
}
